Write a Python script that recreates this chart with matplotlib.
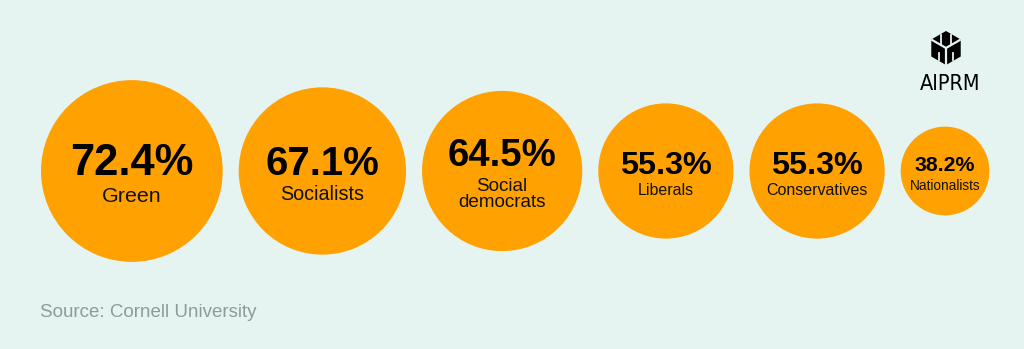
import matplotlib
matplotlib.use("Agg")
import matplotlib.pyplot as plt
from matplotlib.patches import Circle, Polygon
import numpy as np

# ---- data ----
parties = ["Green", "Socialists", "Social\ndemocrats", "Liberals", "Conservatives", "Nationalists"]
values = [72.4, 67.1, 64.5, 55.3, 55.3, 38.2]
value_labels = ["72.4%", "67.1%", "64.5%", "55.3%", "55.3%", "38.2%"]
source = "Source: Cornell University"
brand = "AIPRM"

# ---- style ----
BG = "#E5F3F1"
ORANGE = "#FFA100"
FONT = "Liberation Sans"
W, H, DPI = 1024, 349, 100
PX_PER_PT = DPI / 72.0

fig = plt.figure(figsize=(W / DPI, H / DPI), dpi=DPI, facecolor=BG)
ax = fig.add_axes([0, 0, 1, 1])
ax.set_xlim(0, W)
ax.set_ylim(H, 0)
ax.set_facecolor(BG)
ax.axis("off")

# radius scale (pixels per value unit)
def radius(v):
    return 1.36 * v - 7.6

x_start, gap, cy = 41, 16, 171
x = x_start
for party, v, lab in zip(parties, values, value_labels):
    r = radius(v)
    cx = x + r
    ax.add_patch(Circle((cx, cy), r, facecolor=ORANGE, edgecolor="none"))

    pct_pt = 0.345 * r
    lab_pt = max(0.17 * r, 9.8)
    pct_px = pct_pt * PX_PER_PT
    lab_px = lab_pt * PX_PER_PT
    cap = 0.716 * pct_px
    lines = party.split("\n")
    n = len(lines)
    step = lab_px + 5.5
    lead = 0.88 * lab_px
    yp = (2 * cy + 4 + cap - step - (n - 1) * lead) / 2
    ax.text(cx, yp, lab, ha="center", va="baseline", fontsize=pct_pt,
            fontweight="bold", family=FONT, color="#000000")
    for i, line in enumerate(lines):
        ax.text(cx, yp + step + i * lead, line, ha="center", va="baseline",
                fontsize=lab_pt, family=FONT, color="#111111")
    x = cx + r + gap

# source
ax.text(40, 317, source, ha="left", va="baseline", fontsize=13.5,
        family=FONT, color="#8E9B99")

# brand logo
ax.text(950, 90, brand, ha="center", va="baseline", fontsize=15.5,
        family="DejaVu Sans", fontstretch="condensed", color="#000000")

lcx, lcy, R = 946, 48, 17
ang = np.deg2rad([90, 30, -30, -90, -150, 150])
verts = [(lcx + R * np.cos(a), lcy - R * np.sin(a)) for a in ang]
ax.add_patch(Polygon(verts, closed=True, facecolor="#000000", edgecolor="none"))
c = (lcx, lcy)
ul = verts[5]; ur = verts[1]; bot = verts[3]
for p in (ul, ur, bot):
    ax.plot([c[0], p[0]], [c[1], p[1]], color=BG, lw=1.6, solid_capstyle="butt")
# stripes on top face (vertical)
for t in (-0.33, 0.33):
    xx = lcx + t * R * np.cos(np.deg2rad(30))
    ax.plot([xx, xx], [lcy - R * 0.95 + abs(t) * R * 0.5, lcy - abs(t) * R * 0.5 - 1], color=BG, lw=1.3)
# stripes on left / right faces
for side in (-1, 1):
    xx = lcx + side * 0.45 * R * np.cos(np.deg2rad(30))
    ax.plot([xx, xx], [lcy + 0.45 * R * 0.5 + 1, lcy + R - 0.45 * R * 0.5 - 1], color=BG, lw=1.3)

fig.savefig("out.png", dpi=DPI, facecolor=BG)
